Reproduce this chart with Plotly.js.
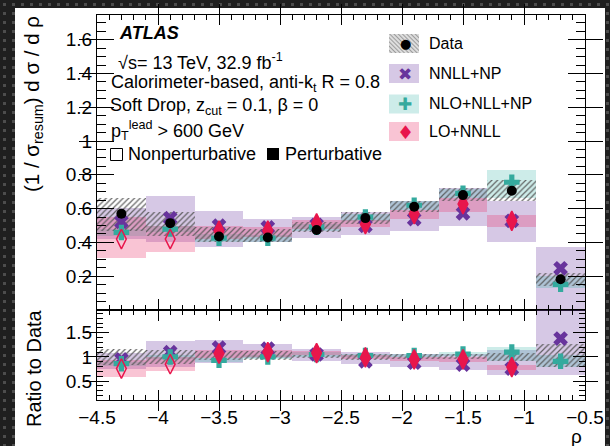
<!DOCTYPE html>
<html><head><meta charset="utf-8">
<script src="https://cdn.plot.ly/plotly-3.0.1.min.js"></script>
<style>
html,body{margin:0;padding:0;width:610px;height:446px;overflow:hidden;}
body{background-color:#1f1f1f;background-image:radial-gradient(circle at center,#4d4d4d 0,#4d4d4d 1.4px,transparent 2px);background-size:9px 9px;position:relative;}
#card{position:absolute;left:15px;top:8px;width:590px;height:438px;background:#fff;}
#chart{position:absolute;left:0;top:0;width:610px;height:446px;}
</style></head><body><div id="card"></div><div id="chart"></div>
<script>
// ---- data ----
const rhoEdges = [-4.5,-4.1,-3.7,-3.3,-2.9,-2.5,-2.1,-1.7,-1.3,-0.9,-0.5];
const nonPertEdge = -3.7;

const dataVal = [0.570,0.514,0.435,0.429,0.474,0.544,0.611,0.680,0.706,0.182];
const dataLo  = [0.470,0.440,0.400,0.400,0.460,0.508,0.578,0.647,0.647,0.142];
const dataHi  = [0.661,0.582,0.493,0.480,0.520,0.582,0.647,0.722,0.770,0.221];

const nnllVal = [0.522,0.544,0.499,0.489,0.504,0.498,0.538,0.572,0.528,0.247];
const nnllLo  = [0.420,0.400,0.374,0.400,0.425,0.445,0.469,0.498,0.405,0.000];
const nnllHi  = [0.601,0.677,0.588,0.538,0.552,0.582,0.647,0.722,0.647,0.374];

const nloVal  = [0.459,0.479,0.425,0.425,0.490,0.550,0.620,0.690,0.756,0.152];
const nloLo   = [0.440,0.460,0.400,0.405,0.470,0.525,0.590,0.660,0.660,0.130];
const nloHi   = [0.480,0.500,0.450,0.445,0.510,0.570,0.645,0.715,0.828,0.200];

const loVal   = [0.420,0.420,0.469,0.469,0.512,0.508,0.568,0.627,0.528,null];
const loLo    = [0.310,0.344,0.420,0.430,0.480,0.490,0.540,0.580,0.493,null];
const loHi    = [0.548,0.500,0.500,0.490,0.530,0.530,0.590,0.660,0.564,null];

const dataRatioLo = [0.83,0.86,0.93,0.93,0.97,0.94,0.95,0.95,0.92,0.79];
const dataRatioHi = [1.17,1.14,1.13,1.12,1.05,1.07,1.06,1.06,1.09,1.27];

const nnllRatio   = [0.95,1.10,1.19,1.17,1.05,0.91,0.88,0.84,0.76,1.38];
const nnllRatioLo = [0.76,0.79,0.88,0.97,0.92,0.85,0.80,0.74,0.62,0.62];
const nnllRatioHi = [1.08,1.33,1.36,1.27,1.17,1.10,1.07,1.07,1.14,1.98];

const nloRatio    = [0.86,1.00,0.93,1.00,1.05,1.03,1.03,1.06,1.10,0.91];
const nloRatioLo  = [0.82,0.95,0.89,0.95,1.00,0.99,0.99,1.01,0.92,0.80];
const nloRatioHi  = [0.90,1.05,0.97,1.05,1.10,1.07,1.07,1.10,1.20,1.05];

const loRatio     = [0.76,0.85,1.07,1.10,1.08,0.99,0.95,0.95,0.79,null];
const loRatioLo   = [0.58,0.71,0.97,1.00,1.03,0.95,0.91,0.90,0.74,null];
const loRatioHi   = [0.93,1.00,1.15,1.14,1.12,1.03,0.99,0.99,0.84,null];

const yTicksTop   = [0.2,0.4,0.6,0.8,1,1.2,1.4,1.6];
const yTicksRatio = [0.5,1,1.5];
const xTicks      = [-4.5,-4,-3.5,-3,-2.5,-2,-1.5,-1,-0.5];

const seriesNames = ['Data','NNLL+NP','NLO+NLL+NP','LO+NNLL'];

// ---- styling ----
const FONT = 'Liberation Sans, Arial, Helvetica, sans-serif';
const C = {
  data:'#000000',
  nnll:'rgb(104,52,156)', nnllBand:'rgba(120,72,170,0.30)',
  nlo:'rgb(52,170,158)',  nloBand:'rgba(60,180,170,0.26)',
  lo:'rgb(232,22,76)',    loBand:'rgba(236,60,112,0.30)',
  hatch:'rgba(85,85,85,0.9)'
};

const centers = rhoEdges.slice(0,-1).map((e,i)=>(e+rhoEdges[i+1])/2);
const widths  = rhoEdges.slice(0,-1).map((e,i)=>rhoEdges[i+1]-e);

function band(lo,hi,color,xa,ya,pattern){
  return {type:'bar', x:centers, base:lo, y:hi.map((h,i)=>(h==null||lo[i]==null)?null:h-lo[i]),
    width:widths, xaxis:xa, yaxis:ya, showlegend:false, hoverinfo:'skip',
    marker:{color:color, line:{width:0}, pattern:pattern}};
}
const hatch = {shape:'/', size:4, solidity:0.3, fgcolor:C.hatch};
function pts(vals,xa,ya,marker){
  return {type:'scatter', mode:'markers', x:centers, y:vals, xaxis:xa, yaxis:ya,
    showlegend:false, hoverinfo:'skip', cliponaxis:true, marker:marker};
}
const loSymbols = centers.map(c=> c<nonPertEdge ? 'diamond-tall-open' : 'diamond-tall');
const mk = {
  nnll:{symbol:'x', size:13, color:C.nnll, line:{width:0}},
  nlo:{symbol:'cross', size:13, color:C.nlo, line:{width:0}},
  lo:{symbol:loSymbols, size:14, color:C.lo, line:{width:1.5, color:C.lo}},
  data:{symbol:'circle', size:10, color:C.data, line:{width:0}},
  hidden:{opacity:0, size:1}
};

const traces = [
  band(nnllLo,nnllHi,C.nnllBand,'x','y'),
  band(nloLo,nloHi,C.nloBand,'x','y'),
  band(loLo,loHi,C.loBand,'x','y'),
  band(dataLo,dataHi,C.hatch,'x','y',hatch),
  pts(nnllVal,'x','y',mk.nnll),
  pts(nloVal,'x','y',mk.nlo),
  pts(loVal,'x','y',mk.lo),
  pts(dataVal,'x','y',mk.data),

  band(nnllRatioLo,nnllRatioHi,C.nnllBand,'x2','y2'),
  band(nloRatioLo,nloRatioHi,C.nloBand,'x2','y2'),
  band(loRatioLo,loRatioHi,C.loBand,'x2','y2'),
  band(dataRatioLo,dataRatioHi,C.hatch,'x2','y2',hatch),
  pts(nnllRatio,'x2','y2',mk.nnll),
  pts(nloRatio,'x2','y2',mk.nlo),
  pts(loRatio,'x2','y2',mk.lo),

  // invisible copies that attach the minor-tick overlay axes
  pts(dataVal,'x3','y',mk.hidden),
  pts(dataVal,'x','y3',mk.hidden),
  pts(nloRatio,'x4','y2',mk.hidden),
  pts(nloRatio,'x2','y4',mk.hidden)
];

// ---- layout geometry (pixels) ----
const W=610,H=446,L=97,R=25,T=15,B=46;
const PW=W-L-R, PH=H-T-B;
const px = v=>(v-L)/PW;
const py = v=>(H-B-v)/PH;
const split = py(309.5);
const xRange = [-4.5,-0.5], yRangeTop = [0.003,1.746], yRangeRatio = [0.11,1.98];

const tickSpec = arr => ({tickmode:'linear', tick0:arr[0], dtick:+(arr[1]-arr[0]).toFixed(6)});

const axBase = {showline:true, linecolor:'#000', linewidth:1, mirror:'allticks',
  ticks:'inside', tickcolor:'#000', tickwidth:1, showgrid:false, zeroline:false,
  tickfont:{family:FONT,size:19,color:'#000'}};
const minorAx = {showline:false, mirror:'allticks', ticks:'inside', tickcolor:'#000', tickwidth:1,
  showgrid:false, zeroline:false, showticklabels:false, tickmode:'linear', fixedrange:true};

const xCommon = Object.assign({}, axBase, tickSpec(xTicks), {range:xRange, ticklen:10});

const shapes = [];
const annotations = [];
function txt(text,x,y,size,opts){
  annotations.push(Object.assign({text:text, xref:'paper', yref:'paper', x:px(x), y:py(y),
    xanchor:'left', yanchor:'middle', showarrow:false, font:{family:FONT,size:size,color:'#000'}}, opts||{}));
}
txt('<b><i>ATLAS</i></b>',117,33,18);
txt('\u221As= 13 TeV, 32.9 fb<sup>-1</sup>',116,61,18);
txt('Calorimeter-based, anti-k<sub>t</sub> R = 0.8',109,84,18);
txt('Soft Drop, z<sub>cut</sub> = 0.1, \u03B2 = 0',108,107,18);
txt('p<sub>T</sub><sup>lead</sup> > 600 GeV',109,130,18);
txt('Nonperturbative',126,154,18);
txt('Perturbative',283,154,18);
// open / filled key squares
shapes.push({type:'rect', xref:'paper', yref:'paper', x0:px(110.5), x1:px(122.5), y0:py(160.5), y1:py(148.5),
  fillcolor:'rgba(0,0,0,0)', line:{color:'#000', width:1}});
shapes.push({type:'rect', xref:'paper', yref:'paper', x0:px(267), x1:px(279), y0:py(160), y1:py(148),
  fillcolor:'#000', line:{color:'#000', width:0}});

// axis titles
annotations.push({text:'(1 / \u03C3<sub>resum</sub>) d \u03C3 / d \u03C1', xref:'paper', yref:'paper',
  x:px(33), y:py(14), xanchor:'center', yanchor:'top', textangle:-90, showarrow:false,
  font:{family:FONT,size:20.5,color:'#000'}});
annotations.push({text:'Ratio to Data', xref:'paper', yref:'paper',
  x:px(34), y:py(307), xanchor:'center', yanchor:'top', textangle:-90, showarrow:false,
  font:{family:FONT,size:20,color:'#000'}});
annotations.push({text:'\u03C1', xref:'paper', yref:'paper', x:px(584), y:py(424),
  xanchor:'right', yanchor:'top', showarrow:false, font:{family:FONT,size:19,color:'#000'}});

// legend
const legRows = [43.5,73.5,104,131.5];
const legBoxX = [389,419], legBoxH = 19;
const legGlyph = ['\u25CF','\u2716','\u271A','\u2666'];
const legGlyphColor = [C.data,C.nnll,C.nlo,C.lo];
const legGlyphSize = [13,17,17,19];
const legBoxFill = [null,C.nnllBand,C.nloBand,C.loBand];
const images = [];
const hatchSvg = "<svg xmlns='http://www.w3.org/2000/svg' width='30' height='19'><defs><pattern id='h' width='3' height='3' patternUnits='userSpaceOnUse' patternTransform='rotate(-45)'><line x1='0' y1='0' x2='0' y2='3' stroke='#666' stroke-width='1.1'/></pattern></defs><rect width='30' height='19' fill='#ddd'/><rect width='30' height='19' fill='url(#h)'/></svg>";
legRows.forEach((yc,i)=>{
  if(legBoxFill[i]){
    shapes.push({type:'rect', xref:'paper', yref:'paper', x0:px(legBoxX[0]), x1:px(legBoxX[1]),
      y0:py(yc+legBoxH/2), y1:py(yc-legBoxH/2), fillcolor:legBoxFill[i], line:{width:0}});
  } else {
    images.push({source:'data:image/svg+xml;charset=utf-8,'+encodeURIComponent(hatchSvg),
      xref:'paper', yref:'paper', x:px(legBoxX[0]), y:py(yc-legBoxH/2),
      sizex:px(legBoxX[1])-px(legBoxX[0]), sizey:py(yc-legBoxH/2)-py(yc+legBoxH/2),
      sizing:'stretch', xanchor:'left', yanchor:'top', layer:'above'});
  }
  annotations.push({text:legGlyph[i], xref:'paper', yref:'paper', x:px(405), y:py(yc),
    xanchor:'center', yanchor:'middle', showarrow:false,
    font:{family:'DejaVu Sans',size:legGlyphSize[i],color:legGlyphColor[i]}});
  txt(seriesNames[i],427,yc,16);
});

const layout = {
  width:W, height:H, margin:{l:L,r:R,t:T,b:B,pad:0},
  paper_bgcolor:'rgba(0,0,0,0)', plot_bgcolor:'rgba(0,0,0,0)',
  barmode:'overlay', bargap:0, showlegend:false,
  font:{family:FONT,size:18,color:'#000'},
  xaxis:Object.assign({}, xCommon, {anchor:'y', showticklabels:false}),
  xaxis2:Object.assign({}, xCommon, {anchor:'y2', showticklabels:true}),
  yaxis:Object.assign({}, axBase, tickSpec(yTicksTop), {domain:[split,1], range:yRangeTop, ticklen:17}),
  yaxis2:Object.assign({}, axBase, tickSpec(yTicksRatio), {domain:[0,split], range:yRangeRatio, ticklen:12}),
  // minor-tick overlay axes
  xaxis3:Object.assign({}, minorAx, {overlaying:'x', anchor:'y', side:'bottom', range:xRange, tick0:-4.5, dtick:0.1, ticklen:5}),
  xaxis4:Object.assign({}, minorAx, {overlaying:'x2', anchor:'y2', side:'bottom', range:xRange, tick0:-4.5, dtick:0.1, ticklen:5}),
  yaxis3:Object.assign({}, minorAx, {overlaying:'y', anchor:'x', side:'left', range:yRangeTop, tick0:0, dtick:0.05, ticklen:9}),
  yaxis4:Object.assign({}, minorAx, {overlaying:'y2', anchor:'x2', side:'left', range:yRangeRatio, tick0:0, dtick:0.1, ticklen:6}),
  annotations:annotations, shapes:shapes, images:images
};

Plotly.newPlot('chart', traces, layout, {staticPlot:true, displayModeBar:false});
</script></body></html>
